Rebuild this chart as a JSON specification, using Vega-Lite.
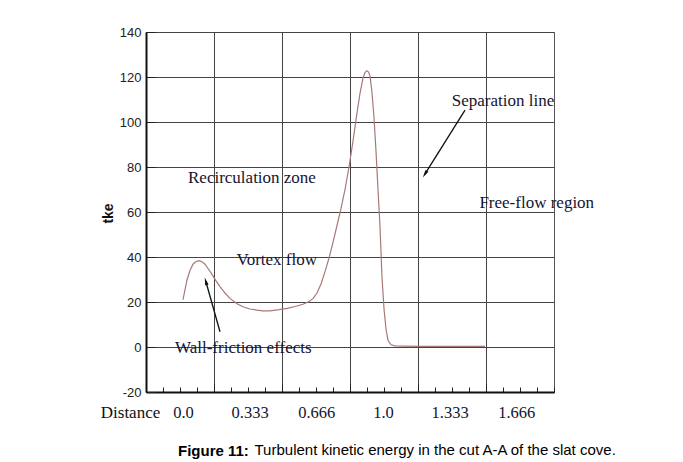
{
  "$schema": "https://vega.github.io/schema/vega-lite/v6.json",
  "width": 408,
  "height": 360,
  "autosize": "none",
  "padding": {"left": 146, "top": 32, "right": 129, "bottom": 70},
  "background": "white",
  "config": {"view": {"stroke": "#555", "strokeWidth": 1}},
  "title": {
    "text": "Figure 11:",
    "orient": "bottom",
    "anchor": "start",
    "frame": "group",
    "dx": 32,
    "dy": -17,
    "font": "Liberation Sans",
    "fontSize": 15,
    "fontWeight": "bold",
    "color": "#000"
  },
  "datasets": {
    "curve": [
      {"d": 0.0, "tke": 21.0}, {"d": 0.01, "tke": 25.5}, {"d": 0.02, "tke": 29.8},
      {"d": 0.035, "tke": 34.0}, {"d": 0.05, "tke": 36.8}, {"d": 0.065, "tke": 38.0},
      {"d": 0.08, "tke": 38.4}, {"d": 0.095, "tke": 37.9}, {"d": 0.11, "tke": 36.8},
      {"d": 0.125, "tke": 34.9}, {"d": 0.145, "tke": 32.3}, {"d": 0.165, "tke": 29.4},
      {"d": 0.185, "tke": 26.8}, {"d": 0.21, "tke": 24.0}, {"d": 0.235, "tke": 21.6},
      {"d": 0.27, "tke": 19.2}, {"d": 0.3, "tke": 17.9}, {"d": 0.335, "tke": 16.9},
      {"d": 0.37, "tke": 16.4}, {"d": 0.4, "tke": 16.1}, {"d": 0.435, "tke": 16.1},
      {"d": 0.48, "tke": 16.6}, {"d": 0.52, "tke": 17.2}, {"d": 0.56, "tke": 18.0},
      {"d": 0.6, "tke": 19.0}, {"d": 0.63, "tke": 20.2}, {"d": 0.65, "tke": 21.5},
      {"d": 0.67, "tke": 24.0}, {"d": 0.69, "tke": 28.0}, {"d": 0.71, "tke": 33.5},
      {"d": 0.73, "tke": 39.5}, {"d": 0.75, "tke": 46.5}, {"d": 0.77, "tke": 54.0},
      {"d": 0.79, "tke": 61.5}, {"d": 0.81, "tke": 70.0}, {"d": 0.83, "tke": 80.0},
      {"d": 0.85, "tke": 91.5}, {"d": 0.87, "tke": 104.0}, {"d": 0.885, "tke": 112.7},
      {"d": 0.9, "tke": 119.5}, {"d": 0.91, "tke": 122.0}, {"d": 0.918, "tke": 122.8},
      {"d": 0.927, "tke": 122.3}, {"d": 0.935, "tke": 120.5}, {"d": 0.945, "tke": 113.0},
      {"d": 0.955, "tke": 102.0}, {"d": 0.965, "tke": 87.0}, {"d": 0.975, "tke": 70.0},
      {"d": 0.985, "tke": 53.5}, {"d": 0.995, "tke": 31.0}, {"d": 1.005, "tke": 17.0},
      {"d": 1.015, "tke": 8.0}, {"d": 1.025, "tke": 3.0}, {"d": 1.04, "tke": 1.0},
      {"d": 1.06, "tke": 0.5}, {"d": 1.1, "tke": 0.4}, {"d": 1.2, "tke": 0.3},
      {"d": 1.35, "tke": 0.3}, {"d": 1.51, "tke": 0.3}
    ],
    "notes": [
      {"x": 0.025, "y": 72.7, "label": "Recirculation zone"},
      {"x": 0.268, "y": 36.4, "label": "Vortex flow"},
      {"x": -0.04, "y": -2.7, "label": "Wall-friction effects"},
      {"x": 1.344, "y": 107.1, "label": "Separation line"},
      {"x": 1.482, "y": 61.8, "label": "Free-flow region"}
    ],
    "arrows": [
      {"name": "wall", "x": 0.185, "y": 6.8, "x2": 0.114, "y2": 29.2},
      {"name": "sep", "x": 1.41, "y": 105.3, "x2": 1.2095, "y2": 76.8}
    ]
  },
  "layer": [
    {
      "data": {"name": "curve"},
      "mark": {"type": "line", "color": "#a87878", "strokeWidth": 1.2},
      "encoding": {
        "x": {
          "field": "d", "type": "quantitative",
          "scale": {"domain": [-0.185, 1.855], "nice": false, "zero": false},
          "axis": {
            "orient": "bottom",
            "values": [-0.185, -0.1, -0.015, 0.07, 0.155, 0.24, 0.325, 0.41, 0.495, 0.58, 0.665, 0.75, 0.835, 0.92, 1.005, 1.09, 1.175, 1.26, 1.345, 1.43, 1.515, 1.6, 1.685, 1.77, 1.855],
            "labels": false,
            "grid": true,
            "gridColor": "#444",
            "gridWidth": 1,
            "gridOpacity": {"condition": {"test": "indexof([0.155, 0.495, 0.835, 1.175, 1.515], datum.value) >= 0", "value": 1}, "value": 0},
            "ticks": true,
            "tickSize": {"condition": {"test": "indexof([0.155, 0.495, 0.835, 1.175, 1.515], datum.value) >= 0", "value": -9}, "value": -5},
            "tickColor": "#222",
            "tickWidth": 1,
            "domainColor": "#111",
            "domainWidth": 2,
            "title": "Distance",
            "titleFont": "Liberation Serif",
            "titleFontSize": 17,
            "titleFontWeight": "normal",
            "titleColor": "#111",
            "titleX": -16,
            "titleY": 20,
            "titleAlign": "center",
            "titleBaseline": "middle"
          }
        },
        "y": {
          "field": "tke", "type": "quantitative",
          "scale": {"domain": [-20, 140], "nice": false, "zero": false},
          "axis": {
            "values": [-20, -15, -10, -5, 0, 5, 10, 15, 20, 25, 30, 35, 40, 45, 50, 55, 60, 65, 70, 75, 80, 85, 90, 95, 100, 105, 110, 115, 120, 125, 130, 135, 140],
            "labelExpr": "datum.value % 20 === 0 ? toString(datum.value) : ''",
            "labelFont": "Liberation Sans",
            "labelFontSize": 13,
            "labelColor": "#222",
            "labelPadding": 14,
            "grid": true,
            "gridColor": "#444",
            "gridWidth": 1,
            "gridOpacity": {"condition": {"test": "datum.value % 20 === 0", "value": 1}, "value": 0},
            "tickSize": {"condition": {"test": "datum.value % 20 === 0", "value": -9}, "value": -5},
            "tickColor": "#222",
            "domainColor": "#111",
            "domainWidth": 2,
            "title": "tke",
            "titleFont": "Liberation Sans",
            "titleFontSize": 14,
            "titleFontWeight": "bold",
            "titleColor": "#111",
            "titleX": -38,
            "titleY": 181,
            "titleAlign": "center",
            "titleBaseline": "middle"
          }
        }
      }
    },
    {
      "data": {"name": "notes"},
      "mark": {"type": "text", "align": "left", "baseline": "alphabetic", "font": "Liberation Serif", "fontSize": 17, "color": "#141432"},
      "encoding": {
        "x": {
          "field": "x", "type": "quantitative",
          "axis": {
            "orient": "bottom",
            "values": [0, 0.333, 0.666, 1, 1.333, 1.666],
            "labelExpr": "datum.value === 0 ? '0.0' : datum.value === 1 ? '1.0' : format(datum.value, '.3f')",
            "ticks": false,
            "domain": false,
            "grid": false,
            "labelFont": "Liberation Serif",
            "labelFontSize": 16.5,
            "labelColor": "#141432",
            "labelBaseline": "middle",
            "labelPadding": 20,
            "title": "Turbulent kinetic energy in the cut A-A of the slat cove.",
            "titleFont": "Liberation Sans",
            "titleFontSize": 15,
            "titleFontWeight": "normal",
            "titleColor": "#000",
            "titleX": 108,
            "titleY": 62,
            "titleAlign": "left",
            "titleBaseline": "alphabetic"
          }
        },
        "y": {"field": "y", "type": "quantitative"},
        "text": {"field": "label", "type": "nominal"}
      }
    },
    {
      "data": {"name": "arrows"},
      "mark": {"type": "rule", "color": "#111", "strokeWidth": 1.3},
      "encoding": {
        "x": {"field": "x", "type": "quantitative", "axis": null},
        "y": {"field": "y", "type": "quantitative"},
        "x2": {"field": "x2"},
        "y2": {"field": "y2"}
      }
    },
    {
      "data": {"name": "arrows"},
      "transform": [{"filter": "datum.name === 'wall'"}],
      "mark": {"type": "point", "shape": "M0,-1L0.45,1L-0.45,1Z", "filled": true, "color": "#111", "opacity": 1, "size": 60, "angle": 344},
      "encoding": {
        "x": {"field": "x2", "type": "quantitative", "axis": null},
        "y": {"field": "y2", "type": "quantitative"}
      }
    },
    {
      "data": {"name": "arrows"},
      "transform": [{"filter": "datum.name === 'sep'"}],
      "mark": {"type": "point", "shape": "M0,-1L0.45,1L-0.45,1Z", "filled": true, "color": "#111", "opacity": 1, "size": 60, "angle": 212},
      "encoding": {
        "x": {"field": "x2", "type": "quantitative", "axis": null},
        "y": {"field": "y2", "type": "quantitative"}
      }
    }
  ],
  "resolve": {"axis": {"x": "independent"}}
}
